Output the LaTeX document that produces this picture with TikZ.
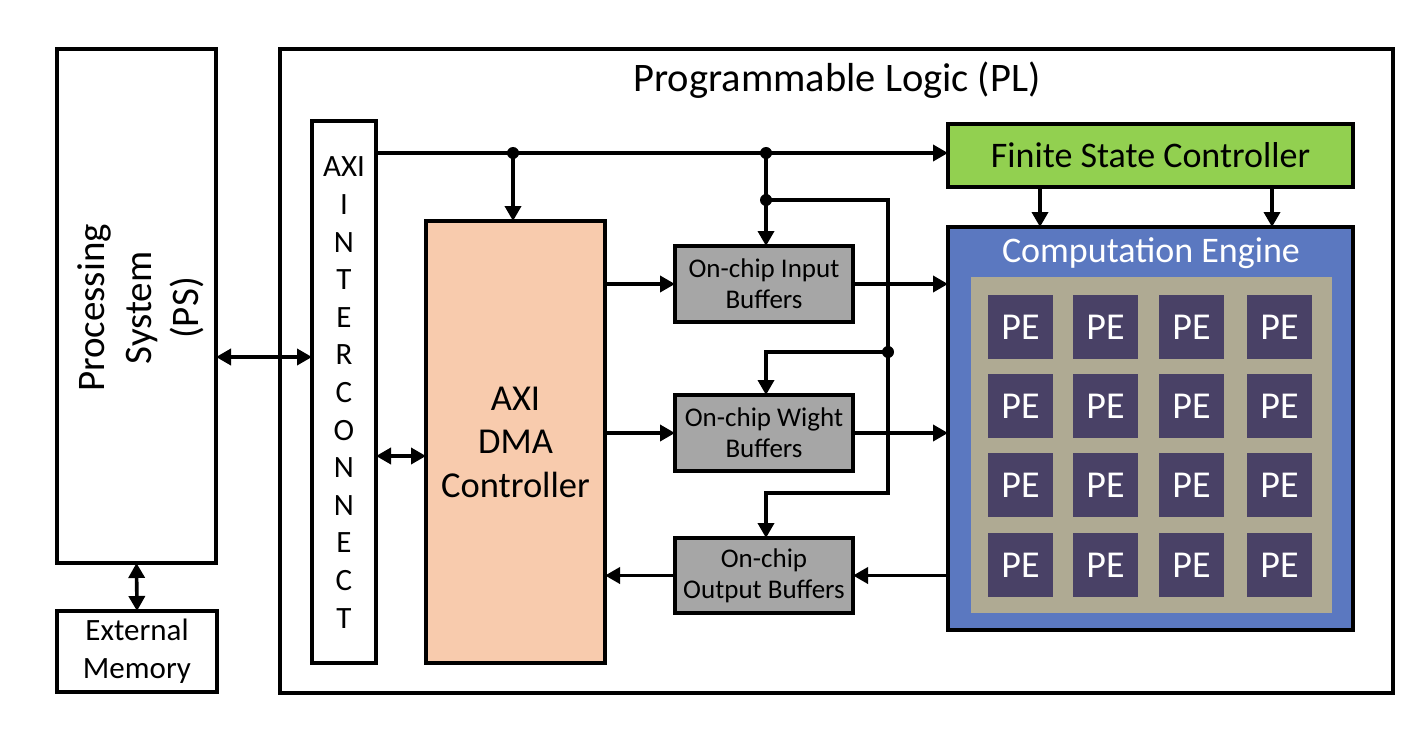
\documentclass[tikz,border=0pt]{standalone}
\usepackage{fontspec}
\setmainfont{Carlito}
\usetikzlibrary{arrows.meta,calc}
\definecolor{peach}{HTML}{F8CBAD}
\definecolor{bufgray}{HTML}{A6A6A6}
\definecolor{fscgreen}{HTML}{92D050}
\definecolor{ceblue}{HTML}{5B78C0}
\definecolor{tan}{HTML}{AFAA93}
\definecolor{pepurple}{HTML}{494166}
\tikzset{
  blk/.style={draw=black, line width=3.6pt, inner sep=0pt, outer sep=0pt, align=center},
  lbl/.style={inner sep=0pt, outer sep=0pt, align=center},
  con/.style={line width=3.6pt, draw=black},
  arr/.style={con, -{Triangle[length=15pt,width=16pt]}},
  dbl/.style={con, {Triangle[length=15pt,width=16pt]}-{Triangle[length=15pt,width=16pt]}},
  junc/.style={circle, fill=black, inner sep=0pt, minimum size=12pt},
  pe/.style={fill=pepurple, inner sep=0pt, outer sep=0pt, minimum width=65pt, minimum height=64pt, text=white, font=\fontsize{38}{44}\selectfont},
}
\begin{document}
\begin{tikzpicture}[x=1pt,y=-1pt]
\useasboundingbox (0,0) rectangle (1423,730);
% Processing system and memory
\node[blk, minimum width=159pt, minimum height=514pt] (PS) at (136.5,306) {};
\node[lbl, rotate=90, font=\fontsize{39}{47}\selectfont] (PStext) at (141,308) {Processing\\System\\(PS)};
\node[blk, minimum width=160pt, minimum height=81pt, font=\fontsize{31}{38}\selectfont] (EM) at (137,651.5) {External\\Memory};
% PL
\node[blk, minimum width=1113pt, minimum height=644pt] (PL) at (836.5,371) {};
\node[lbl, font=\fontsize{40.5}{48}\selectfont] (PLtitle) at (837,80) {Programmable Logic (PL)};
% AXI interconnect
\node[blk, minimum width=64pt, minimum height=542pt] (AXI) at (344,392) {};
\node[lbl, font=\fontsize{31}{37.6}\selectfont] (AXItext) at (344,392.5) {AXI\\I\\N\\T\\E\\R\\C\\O\\N\\N\\E\\C\\T};
% DMA
\node[blk, fill=peach, minimum width=179pt, minimum height=442pt, font=\fontsize{36.5}{43.5}\selectfont] (DMA) at (515.5,442) {AXI\\DMA\\Controller};
% Buffers
\node[blk, fill=bufgray, minimum width=178pt, minimum height=76pt, font=\fontsize{27}{31}\selectfont] (IB) at (764,284) {On-chip Input\\Buffers};
\node[blk, fill=bufgray, minimum width=178pt, minimum height=76pt, font=\fontsize{27}{31}\selectfont] (WB) at (764,433) {On-chip Wight\\Buffers};
\node[blk, fill=bufgray, minimum width=178pt, minimum height=75pt, font=\fontsize{27}{31}\selectfont] (OB) at (764,575.5) {On-chip\\Output Buffers};
% FSC
\node[blk, fill=fscgreen, minimum width=405pt, minimum height=63pt, font=\fontsize{36}{42}\selectfont] (FSC) at (1150.5,155.5) {Finite State Controller};
% Computation engine
\node[blk, fill=ceblue, minimum width=405pt, minimum height=403pt] (CE) at (1150.5,428.5) {};
\node[lbl, text=white, font=\fontsize{36}{42}\selectfont] (CEtitle) at (1151,253) {Computation Engine};
\node[fill=tan, inner sep=0pt, outer sep=0pt, minimum width=361pt, minimum height=336pt] (TAN) at (1151.5,445) {};
\foreach \r/\y in {1/327,2/406,3/485,4/565}{
  \foreach \c/\x in {1/1020.5,2/1105.5,3/1191.5,4/1279.5}{
    \node[pe] (pe\r\c) at (\x,\y) {PE};
  }
}
% coordinates for connectors
\coordinate (yPS) at (0,357);
\coordinate (yAD) at (0,456);
\coordinate (bus) at (0,153);
\coordinate (j1) at (513,153);
\coordinate (j2) at (766,153);
\coordinate (j3) at (766,200);
\coordinate (j4) at (888,352);
\coordinate (c1) at (888,200);
\coordinate (c2) at (888,493);
\coordinate (c3) at (766,493);
\coordinate (c4) at (766,352);
\coordinate (f1) at (1040,0);
\coordinate (f2) at (1272,0);
% connectors
\draw[dbl] (PS.east |- yPS) -- (AXI.west |- yPS);
\draw[dbl] (PS.south) -- (EM.north);
\draw[dbl] (AXI.east |- yAD) -- (DMA.west |- yAD);
\draw[arr] (AXI.east |- bus) -- (FSC.west |- bus);
\draw[arr] (j1) -- (j1 |- DMA.north);
\draw[arr] (j2) -- (j2 |- IB.north);
\draw[arr] (j3) -- (c1) -- (c2) -- (c3) -- (c3 |- OB.north);
\draw[arr] (j4) -- (c4) -- (c4 |- WB.north);
\draw[arr] (DMA.east |- IB.west) -- (IB.west);
\draw[arr] (DMA.east |- WB.west) -- (WB.west);
\draw[arr] (IB.east) -- (CE.west |- IB.east);
\draw[arr] (WB.east) -- (CE.west |- WB.east);
\draw[arr] (CE.west |- OB.east) -- (OB.east);
\draw[arr] (OB.west) -- (DMA.east |- OB.west);
\draw[arr] (FSC.south -| f1) -- (CE.north -| f1);
\draw[arr] (FSC.south -| f2) -- (CE.north -| f2);
\node[junc] (d1) at (j1) {};
\node[junc] (d2) at (j2) {};
\node[junc] (d3) at (j3) {};
\node[junc] (d4) at (j4) {};
\end{tikzpicture}
\end{document}
